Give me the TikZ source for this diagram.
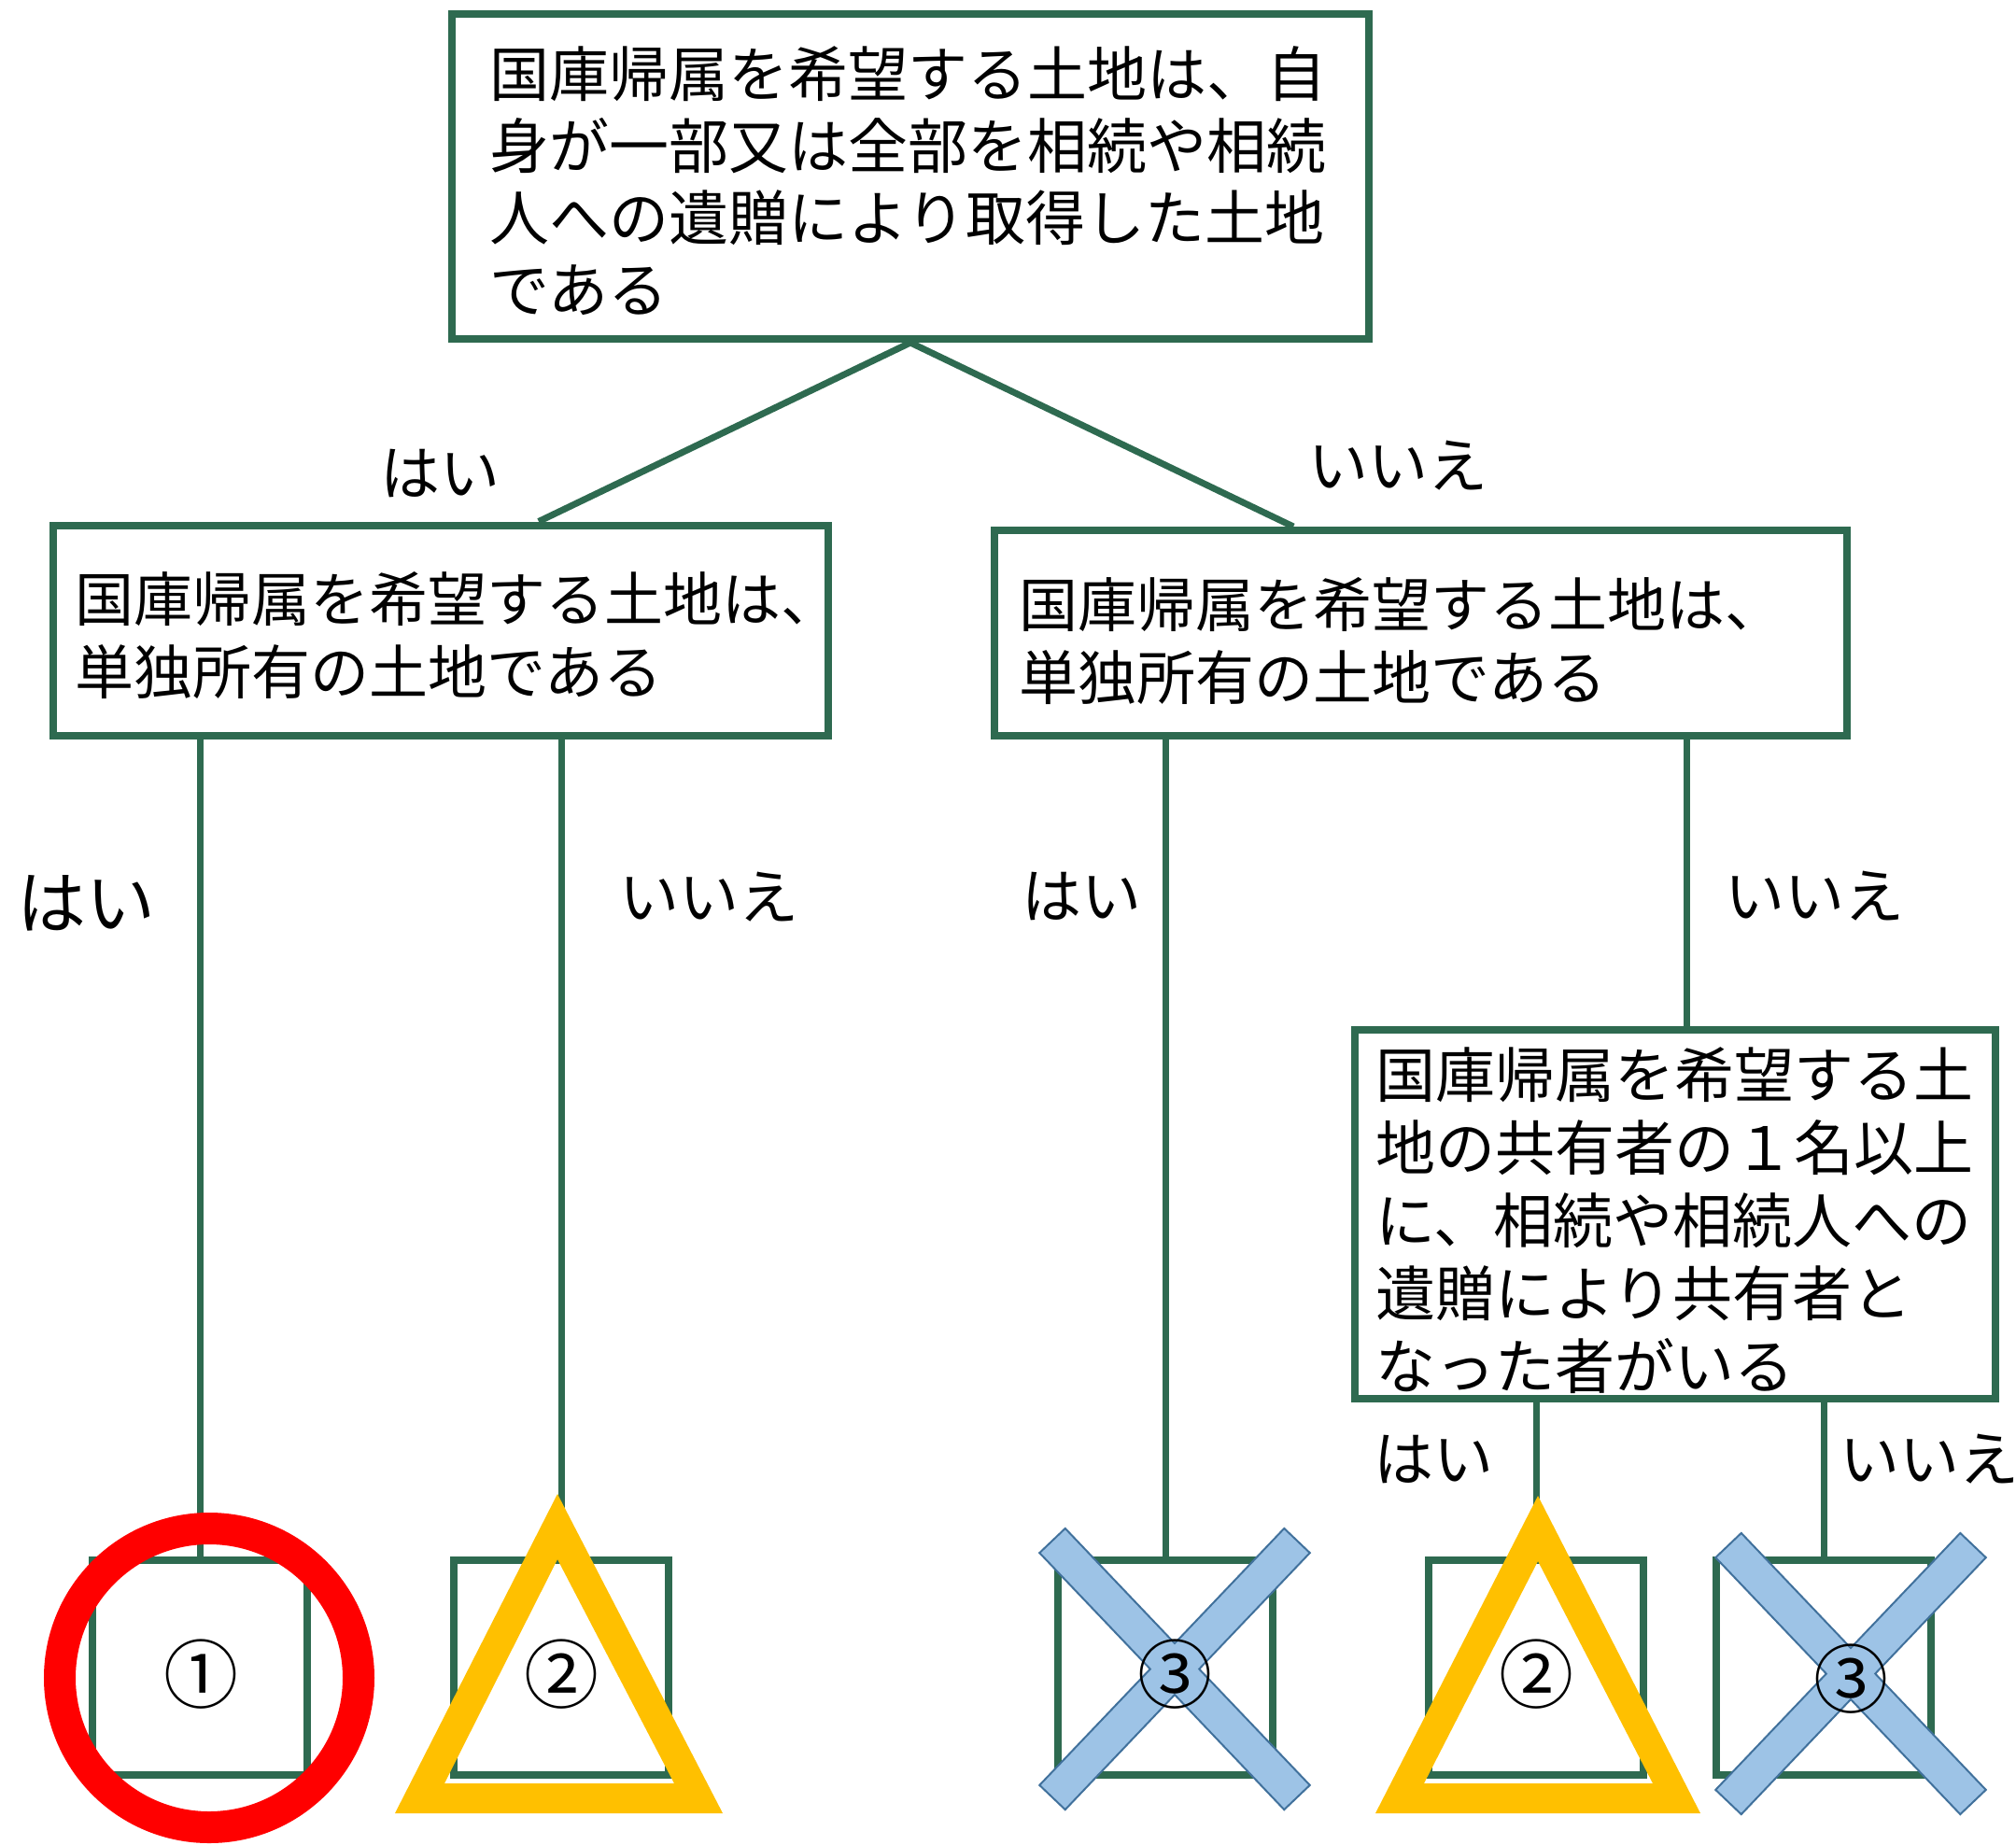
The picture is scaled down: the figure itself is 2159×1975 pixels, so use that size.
\documentclass[tikz,border=0pt]{standalone}
\usepackage{fontspec}
\setmainfont{Noto Sans CJK JP}
\definecolor{boxgreen}{RGB}{46,106,80}
\definecolor{markyellow}{RGB}{255,192,0}
\definecolor{markblue}{RGB}{157,195,230}
\definecolor{markedge}{RGB}{65,113,156}
% struts that fix where the lines sit in a box
\newcommand{\firstline}[1]{\rule{0pt}{#1}}
\newcommand{\lastline}[1]{\rule[-#1]{0pt}{#1}}

\begin{document}
\begin{tikzpicture}[x=1pt, y=-1pt,
  box/.style={draw=boxgreen, line width=8pt, fill=white, align=left, inner sep=0pt},
  line/.style={draw=boxgreen, line width=7pt},
  ans/.style={font=\fontsize{64}{70}\selectfont, inner sep=0pt},
  num/.style={font=\fontsize{80}{80}\selectfont, inner sep=0pt}]
\useasboundingbox (0,0) rectangle (2159,1975);

% questions
\node[box, minimum width=982pt, minimum height=348pt, text width=902pt,
  font=\fontsize{64}{77}\selectfont] (q1) at (975,189)
  {\firstline{80pt}国庫帰属を希望する土地は、自\\身が一部又は全部を相続や相続\\人への遺贈により取得した土地\\である\lastline{20pt}};
\node[box, minimum width=830pt, minimum height=225pt, text width=784pt,
  font=\fontsize{63}{78}\selectfont] (q2) at (472,675)
  {\firstline{78pt}国庫帰属を希望する土地は、\\単独所有の土地である\lastline{20pt}};
\node[box, minimum width=913pt, minimum height=220pt, text width=859pt,
  font=\fontsize{63}{78}\selectfont] (q3) at (1521,678)
  {\firstline{84pt}国庫帰属を希望する土地は、\\単独所有の土地である\lastline{20pt}};
\node[box, minimum width=686pt, minimum height=395pt, text width=642pt,
  font=\fontsize{64}{78}\selectfont] (q4) at (1794,1300)
  {\firstline{72pt}国庫帰属を希望する土\\地の共有者の１名以上\\に、相続や相続人への\\遺贈により共有者と\\なった者がいる\lastline{9pt}};

% answers
\node[box, minimum size=230pt] (b1) at (214,1786) {};
\node[box, minimum size=230pt] (b2) at (601,1786) {};
\node[box, minimum size=230pt] (b3) at (1248,1786) {};
\node[box, minimum size=230pt] (b4) at (1645,1786) {};
\node[box, minimum size=230pt] (b5) at (1953,1786) {};

\draw[line] (q1.south) -- (q2.48);
\draw[line] (q1.south) -- (q3.140);
\draw[line] (q2.south -| b1.north) -- (b1.north);
\draw[line] (q2.south -| b2.north) -- (b2.north);
\draw[line] (q3.south -| b3.north) -- (b3.north);
\draw[line] ([xshift=12pt]q4.north) -- ([xshift=12pt]q4.north |- q3.south);
\draw[line] (q4.south -| b4.north) -- (b4.north);
\draw[line] (q4.south -| b5.north) -- (b5.north);

\node[ans] (y0) at (471,507) {はい};
\node[ans] (n0) at (1497,499) {いいえ};
\node[ans, font=\fontsize{74}{80}\selectfont] (y1) at (92,967) {はい};
\node[ans] (n1) at (759,961) {いいえ};
\node[ans] (y2) at (1158,960) {はい};
\node[ans] (n2) at (1943,960) {いいえ};
\node[ans] (y3) at (1535,1563) {はい};
\node[ans] (n3) at (2066,1563) {いいえ};

% marks
\draw[red, line width=34pt] ([xshift=10pt, yshift=-11pt]b1.center) circle[radius=160pt];
\fill[markyellow, even odd rule] (597,1600) -- (774,1942) -- (423,1942) -- cycle
  (597,1670) -- (722,1910) -- (476,1910) -- cycle;
\fill[markyellow, even odd rule] (1647,1602) -- (1821,1942) -- (1473,1942) -- cycle
  (1647,1672) -- (1770,1910) -- (1525,1910) -- cycle;
\foreach \cx/\cy in {1258/1787.5, 1982/1792.5}
  \filldraw[fill=markblue, draw=markedge, line width=2pt, shift={(\cx,\cy)}]
    (-117.25,-150.6) -- (0,-27.5) -- (117.25,-150.6) -- (144.75,-124.4)
    -- (26.2,0) -- (144.75,124.4) -- (117.25,150.6) -- (0,27.5)
    -- (-117.25,150.6) -- (-144.75,124.4) -- (-26.2,0) -- (-144.75,-124.4) -- cycle;

\node[num] (c1) at (215,1793) {①};
\node[num] (c2) at (601,1793) {②};
\node[num] (c3) at (1258,1793) {③};
\node[num] (c4) at (1645,1793) {②};
\node[num] (c5) at (1982,1798) {③};
\end{tikzpicture}
\end{document}
